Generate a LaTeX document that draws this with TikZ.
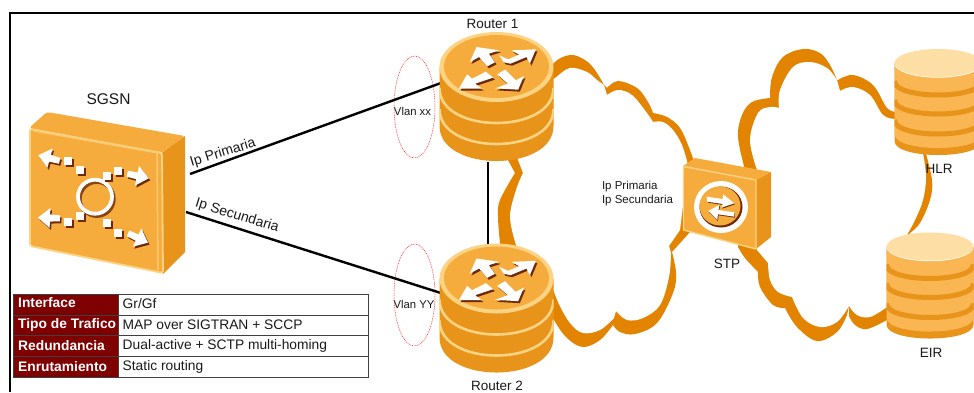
\documentclass[tikz,border=0pt]{standalone}
\usepackage{fontspec}
\setmainfont{Liberation Sans}
\definecolor{cloudor}{HTML}{E38400}
\definecolor{bodyor}{HTML}{E8931A}
\definecolor{faceor}{HTML}{F6AC3D}
\definecolor{rimor}{HTML}{FCD283}
\definecolor{dbbody}{HTML}{F9B653}
\definecolor{dbtop}{HTML}{FDDFA5}
\definecolor{shadowbr}{HTML}{6E2A08}
\definecolor{hdrred}{HTML}{7F0000}
\def\rpoly{(290,140) -- (358,150) -- (327,160) -- (345,186) -- (322,198) -- (298,170) -- (270,185) -- cycle
 (468,147) -- (395,150) -- (418,163) -- (385,177) -- (358,165) -- (372,186) -- (392,190) -- (440,170) -- (450,190) -- cycle
 (237,265) -- (262,222) -- (277,235) -- (318,214) -- (340,232) -- (286,250) -- (306,265) -- cycle
 (415,268) -- (346,264) -- (384,250) -- (352,222) -- (376,208) -- (408,240) -- (432,227) -- cycle}
\def\stppoly{(80,125) -- (128,132) -- (130,118) -- (163,145) -- (125,158) -- (128,147) -- (82,140) -- cycle
 (85,168) -- (118,150) -- (116,165) -- (163,172) -- (163,185) -- (114,178) -- (112,195) -- cycle}
\def\headpoly{(11,0) -- (-1,-10) -- (-1,-3.5) -- (-11,-3) -- (-11,3) -- (-1,3.5) -- (-1,10) -- cycle}
\newcommand{\sghead}[3]{%
 \fill[shadowbr,shift={(#1+1.5,#2+2)},rotate=#3] \headpoly;
 \fill[white,shift={(#1,#2)},rotate=#3] \headpoly;}
\newcommand{\sgdot}[2]{%
 \fill[shadowbr] (#1-2.5,#2-2.5) rectangle (#1+5.5,#2+5.5);
 \fill[white] (#1-4,#2-4) rectangle (#1+3.5,#2+3.5);}
\newcommand{\halfell}[3]{(-#1,#2) .. controls (-#1,#2+#3*1.3333) and (#1,#2+#3*1.3333) .. (#1,#2)}
\tikzset{
 x=1pt,y=-1pt,
 lbl/.style={font=\fontsize{#1}{#1}\selectfont,inner sep=0pt,text=black!90},
 link/.style={draw=black,line width=2.4pt},
 vlan/.style={draw=red!85,line width=.5pt,dash pattern=on .9pt off .8pt},
 anchorbox/.style={inner sep=0pt,minimum width=#1},
 hdrcell/.style={font=\fontsize{13.8}{14}\selectfont\bfseries,text=white,inner sep=0pt,anchor=west},
 txtcell/.style={font=\fontsize{13.8}{14}\selectfont,text=black!90,inner sep=0pt,anchor=west},
 routerpic/.pic={
  \fill[bodyor] (-57,0) -- (-57,59) .. controls (-57,105.7) and (57,105.7) .. (57,59) -- (57,0) -- cycle;
  \begin{scope}
   \clip (-57,0) -- (-57,59) .. controls (-57,105.7) and (57,105.7) .. (57,59) -- (57,0) -- cycle;
   \draw[rimor,line width=2.6pt] \halfell{57}{21}{35};
   \draw[rimor,line width=2.6pt] \halfell{57}{42}{35};
  \end{scope}
  \fill[rimor] (0,0) ellipse [x radius=57pt,y radius=35pt];
  \fill[faceor] (0,-.5) ellipse [x radius=52.5pt,y radius=31.5pt];
  \begin{scope}[x=.3333pt,y=-.3333pt,shift={(-350,-200)}]
   \fill[shadowbr,shift={(5,6)}] \rpoly;
   \fill[white] \rpoly;
  \end{scope}
 },
 dbpic/.pic={
  \fill[bodyor] (-43.5,0) -- (-43.5,78) .. controls (-43.5,96.7) and (43.5,96.7) .. (43.5,78) -- (43.5,0) -- cycle;
  \begin{scope}
   \clip (-43.5,0) -- (-43.5,78) .. controls (-43.5,96.7) and (43.5,96.7) .. (43.5,78) -- (43.5,0) -- cycle;
   \fill[dbbody] (-43.5,0) -- (-43.5,71) .. controls (-43.5,89.7) and (43.5,89.7) .. (43.5,71) -- (43.5,0) -- cycle;
   \draw[bodyor,line width=5pt] \halfell{43.5}{18}{14};
   \draw[bodyor,line width=5pt] \halfell{43.5}{37}{14};
   \draw[bodyor,line width=5pt] \halfell{43.5}{57}{14};
  \end{scope}
  \fill[white] (0,.7) ellipse [x radius=43.5pt,y radius=14pt];
  \fill[dbtop] (0,0) ellipse [x radius=43.5pt,y radius=14pt];
 }
}
\begin{document}
\begin{tikzpicture}
\useasboundingbox (0,0) rectangle (974,392);
\fill[white] (0,0) rectangle (974,392);

% clouds
\fill[cloudor]
 plot[smooth,tension=.6] coordinates {(540,90) (553,64) (570,55) (585,60) (595,70) (604,85)}
 -- plot[smooth,tension=.6] coordinates {(607,88) (618,81) (637,88) (648,102) (653,113)}
 -- plot[smooth,tension=.6] coordinates {(653,113) (667,117) (680,128) (690,150) (695,165)}
 -- (690,232) -- (672,252)
 -- plot[smooth,tension=.6] coordinates {(672,252) (676,273) (673,293) (657,323) (635,334) (620,332) (613,325)}
 -- plot[smooth,tension=.6] coordinates {(613,325) (600,340) (583,347) (567,338) (554,320) (545,300)}
 -- (500,250)
 -- plot[smooth,tension=.6] coordinates {(500,243) (498,217) (500,200) (515,173)}
 -- (508,160) -- (500,140) -- cycle;
\fill[white]
 plot[smooth,tension=.6] coordinates {(540,90) (555,78) (570,68) (587,72) (597,80) (604,85)}
 -- plot[smooth,tension=.6] coordinates {(607,95) (618,90) (632,95) (647,113) (653,122)}
 -- plot[smooth,tension=.6] coordinates {(653,122) (663,122) (673,130) (682,145) (688,165)}
 -- (680,230) -- (669,246) -- (671,253)
 -- plot[smooth,tension=.6] coordinates {(671,253) (669,277) (660,305) (643,318) (627,320) (616,311)}
 -- plot[smooth,tension=.6] coordinates {(614,318) (600,330) (583,333) (570,323) (558,302) (550,280)}
 -- (516,245)
 -- plot[smooth,tension=.6] coordinates {(516,245) (510,217) (516,190) (523,173)}
 -- (518,160) -- (515,140) -- cycle;
\fill[cloudor]
 plot[smooth,tension=.6] coordinates {(745,170) (738,137) (742,115) (752,102) (770,98)}
 -- plot[smooth,tension=.6] coordinates {(770,98) (772,77) (783,57) (803,49) (820,53) (830,65) (837,80)}
 -- plot[smooth,tension=.6] coordinates {(838,80) (853,75) (873,85) (887,108) (897,112)}
 -- (925,120)
 -- plot[smooth,tension=.6] coordinates {(925,150) (932,180) (930,200) (920,223) (910,233)}
 -- (895,250) -- (887,320)
 -- plot[smooth,tension=.6] coordinates {(887,320) (867,329) (855,325) (849,316)}
 -- (849,306) -- (847,315)
 -- plot[smooth,tension=.6] coordinates {(847,315) (837,332) (817,341) (797,327) (785,308)}
 -- plot[smooth,tension=.6] coordinates {(785,308) (773,305) (760,287) (758,272)}
 -- plot[smooth,tension=.6] coordinates {(758,272) (745,258) (738,247)}
 -- cycle;
\fill[white]
 plot[smooth,tension=.6] coordinates {(757,170) (750,140) (758,113) (770,107) (779,108)}
 -- plot[smooth,tension=.6] coordinates {(779,108) (780,90) (793,67) (810,62) (827,68) (837,80)}
 -- plot[smooth,tension=.6] coordinates {(840,91) (853,87) (870,95) (883,115) (895,119)}
 -- (920,130)
 -- plot[smooth,tension=.6] coordinates {(923,153) (926,177) (923,200) (915,220) (908,233)}
 -- (900,260) -- (887,307)
 -- plot[smooth,tension=.6] coordinates {(887,307) (870,317) (857,315) (849,306)}
 -- plot[smooth,tension=.6] coordinates {(849,306) (837,322) (820,327) (803,318) (792,297)}
 -- plot[smooth,tension=.6] coordinates {(792,297) (778,292) (770,280) (768,263)}
 -- (757,250) -- cycle;

% frame
\draw[black,line width=2pt] (10,392) -- (10,13) -- (974,13);

% vlan ellipses
\node[inner sep=0pt] (vlanx) at (414.5,107) {};
\node[inner sep=0pt] (vlany) at (414.5,295) {};
\draw[vlan] (vlanx) ellipse [x radius=20.5pt,y radius=51pt];
\draw[vlan] (vlany) ellipse [x radius=20.5pt,y radius=51pt];

% anchors of devices
\node[anchorbox=114pt] (r1) at (496.5,96) {};
\node[anchorbox=114pt] (r2) at (496.5,307) {};
\node[anchorbox=156pt] (sgsn) at (107,193) {};
\coordinate (sgsnA) at (190,174);
\coordinate (sgsnB) at (186,212);
\coordinate (r1w) at (441,83);
\coordinate (r2w) at (444,294);
\coordinate (r1s) at (488,162);
\coordinate (r2n) at (488,245);
\draw[link] (sgsnA) -- (r1w);
\draw[link] (sgsnB) -- (r2w);
\draw[link] (r1s) -- (r2n);

% routers
\pic at (496.5,67) {routerpic};
\pic at (496.5,278.5) {routerpic};

% SGSN
\fill[faceor,rounded corners=3pt] (29,128) -- (47,112) -- (185,136) -- (162,153) -- cycle;
\fill[bodyor] (162,153) -- (185,136) -- (185,252) -- (163,274) -- cycle;
\fill[faceor,draw=rimor,line width=1.8pt,line join=round,rounded corners=2pt] (30,129) -- (162,153) -- (163,273) -- (30,246) -- cycle;
\draw[rimor!70!faceor,line width=1.5pt] (157,153) -- (158,270);
\draw[rimor!70!faceor,line width=1.2pt] (33,131) -- (157,153);
\draw[shadowbr!80!faceor,line width=3.8pt] (96.8,199) ellipse [x radius=17pt,y radius=17pt];
\draw[white,line width=3.8pt] (95,196.7) ellipse [x radius=17pt,y radius=17pt];
\sghead{49}{158}{165}\sghead{138}{176}{-12}\sghead{49}{218}{178}\sghead{138}{238}{-25}
\sgdot{68}{161}\sgdot{80}{170}\sgdot{107}{176}\sgdot{118}{171}
\sgdot{68}{222}\sgdot{80}{216}\sgdot{107}{223}\sgdot{118}{233}

% STP
\fill[faceor] (683,166) -- (695,158) -- (771,172) -- (756,180) -- cycle;
\fill[bodyor] (756,180) -- (771,172) -- (771,237) -- (756,249) -- cycle;
\fill[faceor,draw=rimor,line width=1.4pt,line join=round] (683.5,166.5) -- (756,180) -- (756,249) -- (683.5,230) -- cycle;
\node[inner sep=0pt] (stp) at (721,207) {};
\fill[white] (stp) ellipse [x radius=27pt,y radius=26pt];
\fill[shadowbr] (721,207) ellipse [x radius=21.5pt,y radius=20.5pt];
\fill[faceor] (720,206) ellipse [x radius=20.5pt,y radius=19.5pt];
\begin{scope}[x=.3333pt,y=-.3333pt,shift={(2040,465)}]
 \fill[shadowbr,shift={(2,3)}] \stppoly;
 \fill[white] \stppoly;
\end{scope}

% databases
\pic at (938,63) {dbpic};
\pic at (930,246.5) {dbpic};
\node[anchorbox=86pt] (hlr) at (938,100) {};
\node[anchorbox=86pt] (eir) at (930,285) {};

% labels
\node[lbl=15.5] (tsgsn) at (108.5,99) {SGSN};
\node[lbl=13.5] (tr1) at (492.5,24) {Router 1};
\node[lbl=13.5] (tr2) at (497,386) {Router 2};
\node[lbl=13.5] (tstp) at (727,264) {STP};
\node[lbl=13.5] (thlr) at (939,169) {HLR};
\node[lbl=13.5] (teir) at (931,353) {EIR};
\node[lbl=14,rotate=17] (tp) at (223,153) {Ip Primaria};
\node[lbl=14,rotate=-17] (ts) at (237,216) {Ip Secundaria};
\node[lbl=11.3] (tvx) at (412.5,111) {Vlan xx};
\node[lbl=11.3] (tvy) at (414,304) {Vlan YY};
\node[font=\fontsize{11.5}{14}\selectfont,align=left,inner sep=0pt,text=black!90] (tcl) at (637.5,194) {Ip Primaria\\Ip Secundaria};

% table
\fill[hdrred] (13,294) rectangle (118,377);
\draw[black!75,line width=.9pt] (13,294) rectangle (368,377);
\draw[black!75,line width=.9pt] (13,315) -- (368,315) (13,335.7) -- (368,335.7) (13,356) -- (368,356) (118,294) -- (118,377);
\node[hdrcell] (h1) at (18,303) {Interface};
\node[hdrcell] (h2) at (18,324.5) {Tipo de Trafico};
\node[hdrcell] (h3) at (18,346) {Redundancia};
\node[hdrcell] (h4) at (18,367) {Enrutamiento};
\node[txtcell] (v1) at (122.5,303.5) {Gr/Gf};
\node[txtcell] (v2) at (122.5,324.5) {MAP over SIGTRAN + SCCP};
\node[txtcell] (v3) at (122.5,346) {Dual-active + SCTP multi-homing};
\node[txtcell] (v4) at (122.5,367) {Static routing};
\end{tikzpicture}
\end{document}
